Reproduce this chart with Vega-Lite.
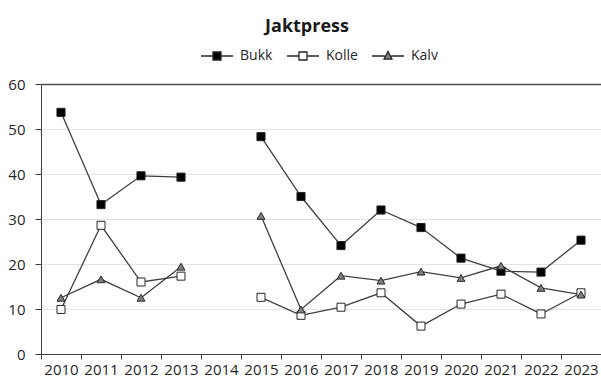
{
  "$schema": "https://vega.github.io/schema/vega-lite/v6.json",
  "width": 560,
  "height": 270,
  "autosize": {"type": "none"},
  "padding": {"left": 41, "top": 84, "right": 0, "bottom": 24},
  "background": "white",
  "title": {"text": "Jaktpress", "font": "Open Sans", "fontSize": 18, "fontWeight": "bold", "color": "#1a1a1a", "anchor": "middle", "dx": -14, "offset": 3},
  "config": {"view": {"stroke": null}},
  "data": {"values": [
    {"year": "2010", "series": "Bukk", "value": 53.7},
    {"year": "2011", "series": "Bukk", "value": 33.2},
    {"year": "2012", "series": "Bukk", "value": 39.6},
    {"year": "2013", "series": "Bukk", "value": 39.3},
    {"year": "2014", "series": "Bukk", "value": null},
    {"year": "2015", "series": "Bukk", "value": 48.3},
    {"year": "2016", "series": "Bukk", "value": 35.0},
    {"year": "2017", "series": "Bukk", "value": 24.1},
    {"year": "2018", "series": "Bukk", "value": 32.0},
    {"year": "2019", "series": "Bukk", "value": 28.1},
    {"year": "2020", "series": "Bukk", "value": 21.3},
    {"year": "2021", "series": "Bukk", "value": 18.4},
    {"year": "2022", "series": "Bukk", "value": 18.2},
    {"year": "2023", "series": "Bukk", "value": 25.3},
    {"year": "2010", "series": "Kolle", "value": 9.9},
    {"year": "2011", "series": "Kolle", "value": 28.6},
    {"year": "2012", "series": "Kolle", "value": 16.0},
    {"year": "2013", "series": "Kolle", "value": 17.3},
    {"year": "2014", "series": "Kolle", "value": null},
    {"year": "2015", "series": "Kolle", "value": 12.6},
    {"year": "2016", "series": "Kolle", "value": 8.6},
    {"year": "2017", "series": "Kolle", "value": 10.4},
    {"year": "2018", "series": "Kolle", "value": 13.6},
    {"year": "2019", "series": "Kolle", "value": 6.2},
    {"year": "2020", "series": "Kolle", "value": 11.1},
    {"year": "2021", "series": "Kolle", "value": 13.3},
    {"year": "2022", "series": "Kolle", "value": 8.9},
    {"year": "2023", "series": "Kolle", "value": 13.6},
    {"year": "2010", "series": "Kalv", "value": 12.5},
    {"year": "2011", "series": "Kalv", "value": 16.6},
    {"year": "2012", "series": "Kalv", "value": 12.5},
    {"year": "2013", "series": "Kalv", "value": 19.4},
    {"year": "2014", "series": "Kalv", "value": null},
    {"year": "2015", "series": "Kalv", "value": 30.7},
    {"year": "2016", "series": "Kalv", "value": 9.9},
    {"year": "2017", "series": "Kalv", "value": 17.4},
    {"year": "2018", "series": "Kalv", "value": 16.3},
    {"year": "2019", "series": "Kalv", "value": 18.3},
    {"year": "2020", "series": "Kalv", "value": 16.9},
    {"year": "2021", "series": "Kalv", "value": 19.6},
    {"year": "2022", "series": "Kalv", "value": 14.7},
    {"year": "2023", "series": "Kalv", "value": 13.2}
  ]},
  "encoding": {
    "x": {
      "field": "year", "type": "ordinal",
      "scale": {"type": "band", "domain": ["2010","2011","2012","2013","2014","2015","2016","2017","2018","2019","2020","2021","2022","2023"], "paddingInner": 0, "paddingOuter": 0},
      "axis": {"title": null, "labelAngle": 0, "tickBand": "extent", "tickSize": 5, "tickColor": "#404040", "domainColor": "#404040", "labelPadding": 3, "labelFont": "Open Sans", "labelFontSize": 15, "labelColor": "#262626", "grid": false}
    },
    "y": {
      "field": "value", "type": "quantitative",
      "scale": {"domain": [0, 60], "nice": false},
      "axis": {"title": null, "values": [0,10,20,30,40,50,60], "tickSize": 6, "tickColor": "#404040", "domainColor": "#404040", "labelPadding": 10, "labelFont": "Open Sans", "labelFontSize": 15, "labelColor": "#262626", "grid": true,
        "gridColor": {"condition": {"test": "datum.value === 60", "value": "#505050"}, "value": "#e3e3e3"},
        "gridWidth": {"condition": {"test": "datum.value === 60", "value": 1.5}, "value": 1}}
    }
  },
  "layer": [
    {
      "mark": {"type": "line", "stroke": "#404040", "strokeWidth": 1.3, "invalid": "break-paths-show-domains"},
      "encoding": {"detail": {"field": "series"}}
    },
    {
      "mark": {"type": "point", "filled": true, "stroke": "#262626", "strokeWidth": 1, "opacity": 1},
      "encoding": {
        "shape": {"field": "series", "type": "nominal", "scale": {"domain": ["Bukk","Kolle","Kalv"], "range": ["square","square","triangle-up"]}, "legend": null},
        "fill": {"field": "series", "type": "nominal", "scale": {"domain": ["Bukk","Kolle","Kalv"], "range": ["#000000","#ffffff","#808080"]}, "legend": null},
        "size": {"field": "series", "type": "nominal", "scale": {"domain": ["Bukk","Kolle","Kalv"], "range": [66, 62, 135]}, "legend": null}
      }
    },
    {
      "mark": {"type": "point", "filled": true, "stroke": "#262626", "strokeWidth": 1.3, "opacity": 0},
      "encoding": {
        "shape": {"field": "series", "type": "nominal", "scale": {"domain": ["Bukk","Kolle","Kalv"], "range": ["M-1,0H-0.25M0.25,0H1M-0.25,-0.25H0.25V0.25H-0.25Z", "M-1,0H-0.25M0.25,0H1M-0.25,-0.25H0.25V0.25H-0.25Z", "M-1,0H-0.2M0.2,0H1M0,-0.28L0.25,0.2H-0.25Z"]},
          "legend": {"title": null, "orient": "none", "legendX": 159, "legendY": -45, "direction": "horizontal", "symbolSize": 1024, "symbolOpacity": 1, "symbolStrokeWidth": 1.3, "symbolStrokeColor": "#262626", "labelFont": "Open Sans", "labelFontSize": 14, "labelColor": "#262626", "labelOffset": 6, "columnPadding": 11, "symbolOffset": 0,
            "encode": {"symbols": {"update": {"stroke": {"value": "#262626"}, "strokeWidth": {"value": 1.3}, "opacity": {"value": 1}, "strokeOpacity": {"value": 1}}}}}},
        "fill": {"field": "series", "type": "nominal", "scale": {"domain": ["Bukk","Kolle","Kalv"], "range": ["#000000","#ffffff","#808080"]},
          "legend": {"title": null, "orient": "none", "legendX": 159, "legendY": -45, "direction": "horizontal", "symbolSize": 1024, "symbolOpacity": 1, "symbolStrokeWidth": 1.3, "symbolStrokeColor": "#262626", "labelFont": "Open Sans", "labelFontSize": 14, "labelColor": "#262626", "labelOffset": 6, "columnPadding": 11, "symbolOffset": 0,
            "encode": {"symbols": {"update": {"stroke": {"value": "#262626"}, "strokeWidth": {"value": 1.3}, "opacity": {"value": 1}, "strokeOpacity": {"value": 1}}}}}}
      }
    }
  ],
  "resolve": {"scale": {"shape": "independent", "fill": "independent", "size": "independent"}, "legend": {"shape": "independent", "fill": "independent", "size": "independent"}}
}
